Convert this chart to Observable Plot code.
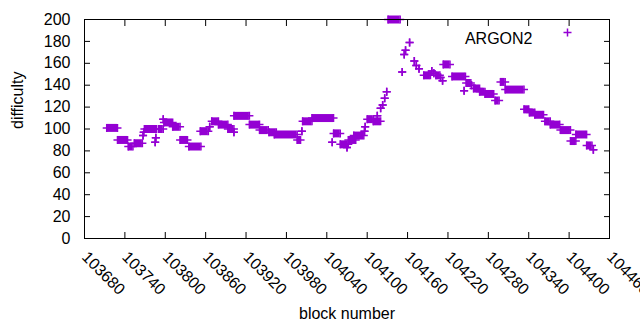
<!DOCTYPE html>
<html><head><meta charset="utf-8">
<script src="https://cdn.jsdelivr.net/npm/d3@7"></script>
<script src="https://cdn.jsdelivr.net/npm/@observablehq/plot@0.6"></script>
<style>body{margin:0;background:#fff} #chart{width:640px;height:330px}</style>
</head><body><div id="chart"></div>
<script>
// runs of consecutive blocks sharing the same difficulty (single points have start === end)
const runStart = [103713,103729,103745,103754,103767,103768,103769,103785,103786,103790,103797,103798,103811,103822,103835,103852,103866,103869,103879,103893,103902,103902,103925,103940,103954,103962,103996,104003,104004,104018,104048,104050,104060,104070,104072,104080,104096,104097,104100,104109,104115,104120,104123,104126,104129,104131,104152,104155,104157,104163,104170,104173,104177,104184,104196,104199,104202,104209,104212,104213,104226,104244,104247,104255,104258,104267,104275,104290,104298,104305,104333,104341,104349,104364,104372,104387,104402,104410,104426,104436];
const runEnd   = [103729,103744,103752,103766,103767,103768,103787,103785,103786,103797,103797,103811,103822,103833,103853,103864,103866,103879,103893,103902,103902,103925,103940,103953,103965,103996,104001,104003,104018,104050,104048,104060,104072,104070,104083,104095,104096,104097,104109,104120,104115,104120,104123,104126,104129,104149,104152,104155,104157,104163,104170,104173,104177,104194,104196,104199,104208,104209,104212,104223,104246,104244,104254,104255,104267,104275,104288,104296,104305,104333,104340,104349,104362,104372,104386,104402,104410,104426,104434,104436];
const runValue = [101,90,84,87,94,97,100,88,92,100,109,106,102,90,84,98,102,107,104,100,97,112,104,99,97,95,90,98,107,110,88,96,86,83,90,94,98,102,109,107,112,119,122,128,134,200,152,168,172,179,162,158,155,149,153,151,149,147,144,159,148,135,142,140,137,134,132,126,143,136,118,115,113,107,104,99,89,95,85,81];
const xTicks = [103680,103740,103800,103860,103920,103980,104040,104100,104160,104220,104280,104340,104400,104460];
const yTicks = [0,20,40,60,80,100,120,140,160,180,200];
const seriesName = "ARGON2";
const xLabel = "block number";
const yLabel = "difficulty";

const runs = runStart.map((s, i) => ({start: s, end: runEnd[i], value: runValue[i]}));
const plusSymbol = {draw(ctx, size) {const r = Math.sqrt(size / Math.PI); ctx.moveTo(-r, 0); ctx.lineTo(r, 0); ctx.moveTo(0, -r); ctx.lineTo(0, r);}};
const color = "#9400d3";

const chart = Plot.plot({
  width: 640, height: 330,
  marginLeft: 84, marginRight: 31, marginTop: 19, marginBottom: 92,
  style: {fontFamily: "'Liberation Sans', Arial, sans-serif", fontSize: "16px", color: "black", background: "white"},
  x: {domain: [103680, 104460]},
  y: {domain: [0, 200]},
  marks: [
    Plot.ruleY(runs, {x1: "start", x2: "end", y: "value", stroke: color, strokeWidth: 8}),
    Plot.dot(runs, {x: "start", y: "value", symbol: plusSymbol, r: 4, stroke: color, fill: "none"}),
    Plot.dot(runs, {x: "end", y: "value", symbol: plusSymbol, r: 4, stroke: color, fill: "none"}),
    Plot.frame({stroke: "black"}),
    Plot.axisX(xTicks, {anchor: "bottom", tickSize: 0, tickPadding: 16, tickRotate: 45, tickFormat: d => String(d), label: null}),
    Plot.axisX(xTicks, {anchor: "bottom", tickSize: -6, tickFormat: () => "", label: null}),
    Plot.axisX(xTicks, {anchor: "top", tickSize: -6, tickFormat: () => "", label: null}),
    Plot.axisY(yTicks, {anchor: "left", tickSize: 0, tickPadding: 14, label: null}),
    Plot.axisY(yTicks, {anchor: "left", tickSize: -6, tickFormat: () => "", label: null}),
    Plot.axisY(yTicks, {anchor: "right", tickSize: -6, tickFormat: () => "", label: null}),
    Plot.text([xLabel], {frameAnchor: "bottom", dy: 80}),
    Plot.text([yLabel], {frameAnchor: "left", rotate: -90, dx: -67}),
    Plot.text([seriesName], {frameAnchor: "top-right", textAnchor: "end", dx: -77, dy: 13}),
    Plot.dot([seriesName], {frameAnchor: "top-right", dx: -42, dy: 13, symbol: plusSymbol, r: 4, stroke: color, fill: "none"})
  ]
});
document.getElementById("chart").append(chart);
</script>
</body></html>
